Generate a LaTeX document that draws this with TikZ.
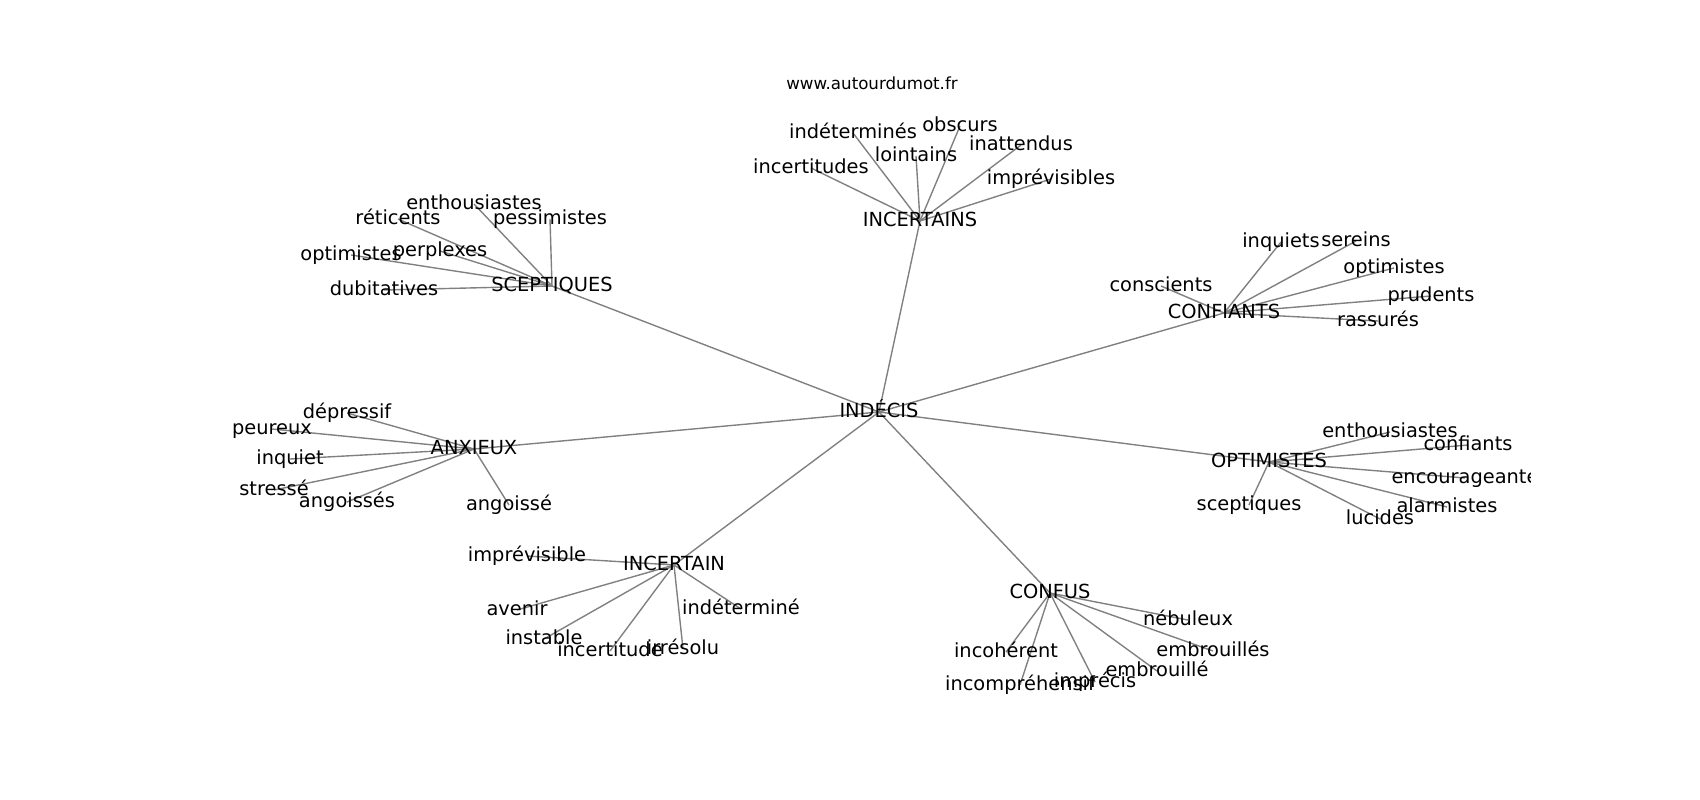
\documentclass[tikz,border=0pt]{standalone}
\usepackage{fontspec}
\setmainfont{DejaVu Sans}
\pgfdeclarelayer{edges}
\pgfsetlayers{edges,main}
\tikzset{
  lbl/.style={inner sep=0pt, text height=14.74pt, text depth=4.58pt, font=\fontsize{19.4}{23}\selectfont},
  ttl/.style={inner sep=0pt, text height=12.67pt, text depth=3.93pt, font=\fontsize{16.67}{20}\selectfont},
  edge/.style={draw=gray, line width=1.39pt}
}
\begin{document}
\begin{tikzpicture}[x=1pt,y=-1pt]
\useasboundingbox (0,0) rectangle (1700,800);
\node[ttl] (title) at (872,85) {www.autourdumot.fr};
\begin{scope}
\clip (212.5,96) rectangle (1530,712);
% centre
\node[lbl] (indecis) at (879,412) {INDÉCIS};
% hubs
\node[lbl] (scep) at (552,286) {SCEPTIQUES};
\node[lbl] (incs) at (920,221) {INCERTAINS};
\node[lbl] (conf) at (1224,313) {CONFIANTS};
\node[lbl] (anx) at (474,449) {ANXIEUX};
\node[lbl] (opt) at (1269,462) {OPTIMISTES};
\node[lbl] (inc) at (674,565) {INCERTAIN};
\node[lbl] (cfs) at (1050,593) {CONFUS};
% SCEPTIQUES leaves
\node[lbl] (s1) at (474,204) {enthousiastes};
\node[lbl] (s2) at (398,219) {réticents};
\node[lbl] (s3) at (550,219) {pessimistes};
\node[lbl] (s4) at (351,255) {optimistes};
\node[lbl] (s5) at (440,251) {perplexes};
\node[lbl] (s6) at (384,290) {dubitatives};
% INCERTAINS leaves
\node[lbl] (t1) at (853,133) {indéterminés};
\node[lbl] (t2) at (960,126) {obscurs};
\node[lbl] (t3) at (916,156) {lointains};
\node[lbl] (t4) at (1021,145) {inattendus};
\node[lbl] (t5) at (811,168) {incertitudes};
\node[lbl] (t6) at (1051,179) {imprévisibles};
% CONFIANTS leaves
\node[lbl] (c1) at (1281,242) {inquiets};
\node[lbl] (c2) at (1356,241) {sereins};
\node[lbl] (c3) at (1394,268) {optimistes};
\node[lbl] (c4) at (1161,286) {conscients};
\node[lbl] (c5) at (1431,296) {prudents};
\node[lbl] (c6) at (1378,321) {rassurés};
% OPTIMISTES leaves
\node[lbl] (o1) at (1390,432) {enthousiastes};
\node[lbl] (o2) at (1468,445) {confiants};
\node[lbl] (o3) at (1465,478) {encourageante};
\node[lbl] (o4) at (1249,505) {sceptiques};
\node[lbl] (o5) at (1447,507) {alarmistes};
\node[lbl] (o6) at (1380,519) {lucides};
% ANXIEUX leaves
\node[lbl] (a1) at (347,413) {dépressif};
\node[lbl] (a2) at (272,429) {peureux};
\node[lbl] (a3) at (290,459) {inquiet};
\node[lbl] (a4) at (274,490) {stressé};
\node[lbl] (a5) at (347,502) {angoissés};
\node[lbl] (a6) at (509,505) {angoissé};
% INCERTAIN leaves
\node[lbl] (i1) at (527,556) {imprévisible};
\node[lbl] (i2) at (517,610) {avenir};
\node[lbl] (i3) at (741,609) {indéterminé};
\node[lbl] (i4) at (544,639) {instable};
\node[lbl] (i5) at (610,651) {incertitude};
\node[lbl] (i6) at (683,649) {irrésolu};
% CONFUS leaves
\node[lbl] (f1) at (1188,620) {nébuleux};
\node[lbl] (f2) at (1006,652) {incohérent};
\node[lbl] (f3) at (1213,651) {embrouillés};
\node[lbl] (f4) at (1157,671) {embrouillé};
\node[lbl] (f5) at (1020,685) {incompréhensif};
\node[lbl] (f6) at (1095,682) {imprécis};
\begin{pgfonlayer}{edges}
\foreach \h in {scep,incs,conf,anx,opt,inc,cfs}
  \draw[edge] (indecis.center) -- (\h.center);
\foreach \k in {1,...,6} {
  \draw[edge] (scep.center) -- (s\k.center);
  \draw[edge] (incs.center) -- (t\k.center);
  \draw[edge] (conf.center) -- (c\k.center);
  \draw[edge] (opt.center) -- (o\k.center);
  \draw[edge] (anx.center) -- (a\k.center);
  \draw[edge] (inc.center) -- (i\k.center);
  \draw[edge] (cfs.center) -- (f\k.center);
}
\end{pgfonlayer}
\end{scope}
\end{tikzpicture}
\end{document}
